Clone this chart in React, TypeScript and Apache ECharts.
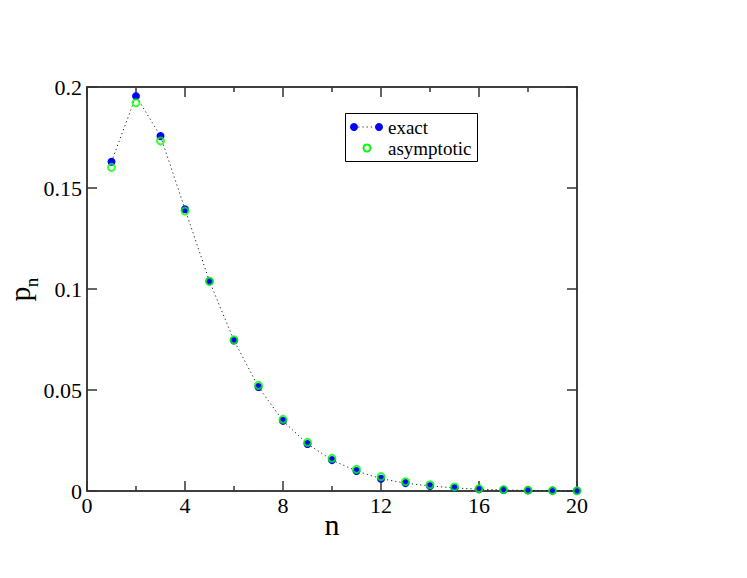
import React, { useEffect, useRef } from "react";
import * as echarts from "echarts";

const nValues = [1, 2, 3, 4, 5, 6, 7, 8, 9, 10, 11, 12, 13, 14, 15, 16, 17, 18, 19, 20];
const exactP = [0.163, 0.1955, 0.1757, 0.1395, 0.1038, 0.0745, 0.0515, 0.0347, 0.0233, 0.0153, 0.0099, 0.0061, 0.0039, 0.0025, 0.0015, 0.0009, 0.0005, 0.0003, 0.0002, 0.0001];
const asymptoticP = [0.1602, 0.1922, 0.1733, 0.1386, 0.1038, 0.0748, 0.0523, 0.0355, 0.0241, 0.0162, 0.0107, 0.0071, 0.0046, 0.0031, 0.002, 0.0012, 0.0007, 0.0004, 0.0002, 0.0001];
const legendLabels = ["exact", "asymptotic"];
const xTitle = "n";
const yTitleMain = "p";
const yTitleSub = "n";

const FONT = "Liberation Serif";

export default function App() {
  const ref = useRef<HTMLDivElement>(null);
  useEffect(() => {
    if (!ref.current) return;
    const chart = echarts.init(ref.current, null, { renderer: "svg" });
    const axisLine = { show: true, onZero: false, lineStyle: { color: "#000", width: 1.5 } };
    const tick = { show: true, inside: true, length: 10, lineStyle: { color: "#333", width: 1.5 } };
    const minor = { show: true, splitNumber: 2, length: 5, lineStyle: { color: "#333", width: 1.5 } };
    const txt = (x: number, y: number, text: string, size: number, align: string, extra: any = {}) => ({
      type: "text", x, y, z: 12, ...extra,
      style: { text, fontFamily: FONT, fontSize: size, fill: "#000", verticalAlign: "middle", align },
    });
    chart.setOption({
      animation: false,
      backgroundColor: "#fff",
      grid: { left: 87, right: 170, top: 87, bottom: 87, containLabel: false },
      xAxis: [
        {
          type: "value", min: 0, max: 20, interval: 4, position: "bottom",
          axisLine, axisTick: tick, minorTick: minor, splitLine: { show: false },
          axisLabel: { color: "#000", fontFamily: FONT, fontSize: 22, margin: 3 },
        },
        {
          type: "value", min: 0, max: 20, interval: 4, position: "top",
          axisLine, axisTick: tick, minorTick: minor, splitLine: { show: false },
          axisLabel: { show: false },
        },
      ],
      yAxis: [
        {
          type: "value", min: 0, max: 0.2, interval: 0.05, position: "left",
          axisLine, axisTick: tick, splitLine: { show: false },
          axisLabel: { color: "#000", fontFamily: FONT, fontSize: 22, margin: 5 },
        },
        {
          type: "value", min: 0, max: 0.2, interval: 0.05, position: "right",
          axisLine, axisTick: tick, splitLine: { show: false },
          axisLabel: { show: false },
        },
      ],
      series: [
        {
          name: legendLabels[0],
          type: "line",
          data: nValues.map((n, i) => [n, exactP[i]]),
          symbol: "circle",
          symbolSize: 8,
          itemStyle: { color: "#0000ff" },
          lineStyle: { color: "#222", width: 1, type: [1.2, 3] },
          z: 2,
        },
        {
          name: legendLabels[1],
          type: "scatter",
          data: nValues.map((n, i) => [n, asymptoticP[i]]),
          symbol: "circle",
          symbolSize: 7,
          itemStyle: { color: "transparent", borderColor: "#00ff00", borderWidth: 2 },
          z: 3,
        },
      ],
      graphic: [
        {
          type: "rect",
          shape: { x: 345.5, y: 113.5, width: 132, height: 48 },
          style: { fill: "#fff", stroke: "#000", lineWidth: 1 },
          z: 10,
        },
        {
          type: "line",
          shape: { x1: 354, y1: 127, x2: 379, y2: 127 },
          style: { stroke: "#222", lineWidth: 1, lineDash: [1.2, 3] },
          z: 11,
        },
        { type: "circle", shape: { cx: 354, cy: 127, r: 4 }, style: { fill: "#0000ff" }, z: 12 },
        { type: "circle", shape: { cx: 379, cy: 127, r: 4 }, style: { fill: "#0000ff" }, z: 12 },
        {
          type: "circle", shape: { cx: 367, cy: 148, r: 3.5 },
          style: { fill: "none", stroke: "#00ff00", lineWidth: 2 }, z: 12,
        },
        txt(388, 127, legendLabels[0], 19, "left"),
        txt(388, 148, legendLabels[1], 19, "left"),
        txt(332, 524, xTitle, 30, "center"),
        txt(19, 294, yTitleMain, 30, "center", { rotation: Math.PI / 2 }),
        txt(31, 282.5, yTitleSub, 19, "center", { rotation: Math.PI / 2 }),
      ],
    });
    return () => chart.dispose();
  }, []);
  return <div ref={ref} style={{ position: "absolute", left: 0, top: 0, width: 747, height: 578 }} />;
}
